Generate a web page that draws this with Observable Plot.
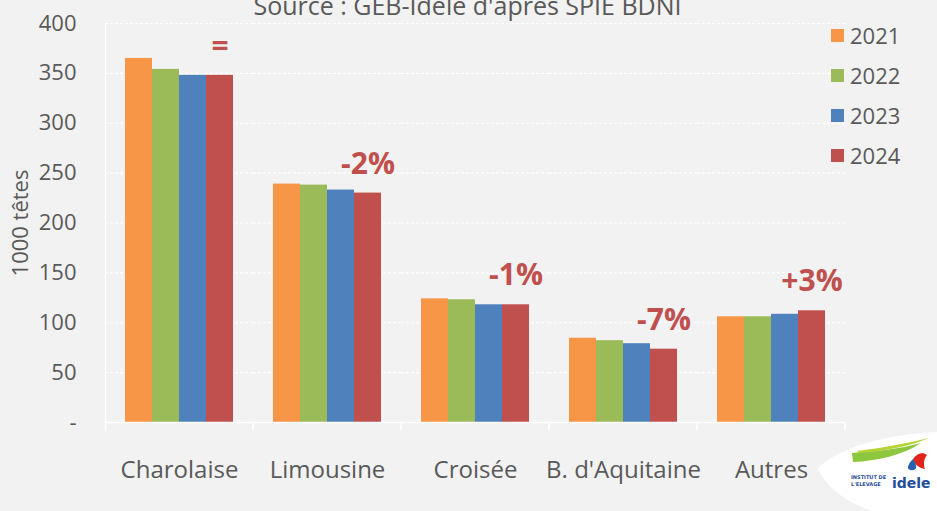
<!DOCTYPE html>
<html><head><meta charset="utf-8">
<script src="https://cdn.jsdelivr.net/npm/d3@7"></script>
<script src="https://cdn.jsdelivr.net/npm/@observablehq/plot@0.6"></script>
<style>
html,body{margin:0;padding:0;background:#f2f2f2;overflow:hidden}
#wrap{position:relative;width:937px;height:511px;font-family:"Open Sans",sans-serif;color:#595959;overflow:hidden}
#title{position:absolute;left:0;width:935px;text-align:center;top:-7px;font-size:25px;line-height:25px;white-space:nowrap}
#legend{position:absolute;left:831px;top:0}
.li{position:absolute;left:0;display:flex;align-items:center;height:30px;font-size:22px;white-space:nowrap}
.sw{width:13px;height:13px;margin-right:6px}
#logo{position:absolute;left:817px;top:431px}
</style></head>
<body>
<div id="wrap">
<div id="chart"></div>
<div id="title">Source : GEB-Idele d'après SPIE BDNI</div>
<div id="legend"></div>
<svg id="logo" width="120" height="80" viewBox="0 0 120 80">
  <path d="M1 37 C25 14 75 3 120 1 L120 80 L55 80 C25 70 6 52 1 37 Z" fill="#ffffff"/>
  <path d="M35 22 C55 20 80 19 104 12 C86 24 60 30 36 31 Z" fill="#8dc63f"/>
  <path d="M40 20 C64 17 92 12 112 7 C94 15 68 20 42 22 Z" fill="#b5d334"/>
  <path d="M96 28 C100 22 106 21 110 24 C107 28 106 33 108 38 C102 37 97 33 96 28 Z" fill="#e2231a"/>
  <path d="M91 37 C91 33 94 30 96 28 C98 31 100 34 99 37 C98 40 92 40 91 37 Z" fill="#2760b0"/>
  <text x="34" y="48" font-family="DejaVu Sans" font-weight="bold" font-size="5" fill="#1f4e9c">INSTITUT DE</text>
  <text x="34" y="55" font-family="DejaVu Sans" font-weight="bold" font-size="5" fill="#1f4e9c">L'ELEVAGE</text>
  <text x="75" y="57" font-family="DejaVu Sans" font-weight="bold" font-size="14" fill="#1f4e9c">idele</text>
</svg>
</div>
<script>
const categories = ["Charolaise", "Limousine", "Croisée", "B. d'Aquitaine", "Autres"];
const years = ["2021", "2022", "2023", "2024"];
const v2021 = [365, 239, 124, 84.5, 106];
const v2022 = [354, 238, 123, 82, 106];
const v2023 = [348, 233, 118, 79, 108.5];
const v2024 = [348, 230, 118, 73.5, 112];
const changes = ["=", "-2%", "-1%", "-7%", "+3%"];
const yTicks = [0, 50, 100, 150, 200, 250, 300, 350, 400];
const yTickLabels = ["-", "50", "100", "150", "200", "250", "300", "350", "400"];
const colors = ["#f79646", "#9bbb59", "#4f81bd", "#c0504d"];

const series = [v2021, v2022, v2023, v2024];
const rows = categories.flatMap((c, i) => years.map((y, j) => ({cat: c, year: y, value: series[j][i]})));
const annots = categories.map((c, i) => ({cat: c, year: years[3], value: v2024[i], label: changes[i]}));

const chart = Plot.plot({
  width: 937, height: 511,
  marginTop: 23, marginBottom: 89, marginLeft: 105, marginRight: 92,
  style: {background: "#f2f2f2", color: "#595959", fontFamily: "Open Sans"},
  fx: {domain: categories, padding: 0},
  x: {domain: years, paddingInner: 0, paddingOuter: 0.74, axis: null},
  y: {domain: [0, 400]},
  color: {domain: years, range: colors},
  marks: [
    Plot.gridY(yTicks.slice(1), {stroke: "#ffffff", strokeOpacity: 1, strokeWidth: 1.2, strokeDasharray: "3,2"}),
    Plot.axisY({ticks: yTicks, tickFormat: d => yTickLabels[yTicks.indexOf(d)], tickSize: 0, tickPadding: 29, fontSize: 22,
      label: "1000 têtes", labelAnchor: "center", labelOffset: 93, labelArrow: false}),
    Plot.axisFx({anchor: "bottom", tickSize: 0, tickPadding: 38, fontSize: 24, label: null}),
    Plot.barY(rows, {fx: "cat", x: "year", y: "value", fill: "year", inset: 0}),
    Plot.ruleY([0], {stroke: "#ffffff", strokeWidth: 1.5}),
    Plot.frame({anchor: "left", facetAnchor: "left", stroke: "#ffffff", strokeWidth: 1.5, insetBottom: -8}),
    Plot.text(annots, {fx: "cat", x: "year", y: "value", text: "label", dy: -29, fill: colors[3],
      fontWeight: "bold", fontSize: 30, lineAnchor: "middle"})
  ]
});
document.getElementById("chart").appendChild(chart);

// boundary ticks below the x axis, placed with Plot's own fx / y scales
const fx = chart.scale("fx"), ys = chart.scale("y");
const y0 = ys.apply(0);
const g = d3.select(chart).append("g").attr("stroke", "#ffffff").attr("stroke-width", 1.5);
categories.forEach(c => {
  const xr = fx.apply(c) + fx.bandwidth;
  g.append("line").attr("x1", xr).attr("x2", xr).attr("y1", y0).attr("y2", y0 + 8);
});

const legend = document.getElementById("legend");
years.forEach((y, i) => {
  const row = document.createElement("div");
  row.className = "li";
  row.style.top = (20 + i * 40) + "px";
  row.innerHTML = `<span class="sw" style="background:${colors[i]}"></span><span>${y}</span>`;
  legend.appendChild(row);
});
</script>
</body></html>
